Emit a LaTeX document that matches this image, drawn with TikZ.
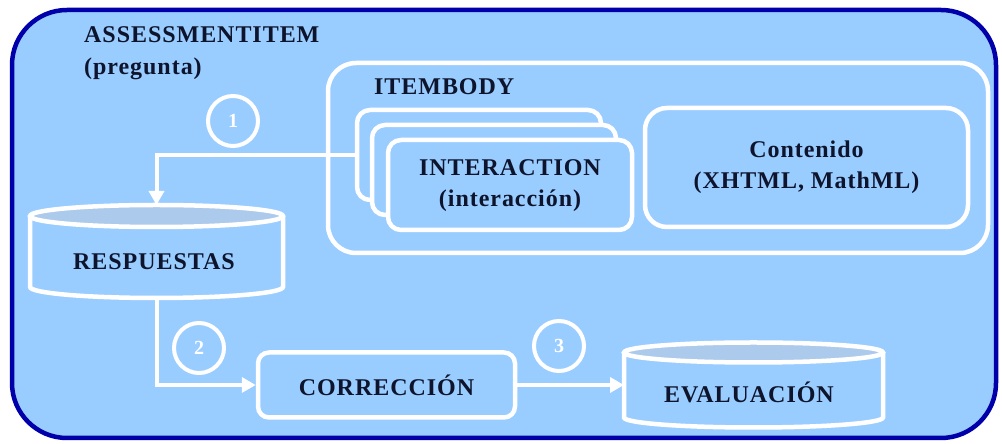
\documentclass[tikz,border=0pt]{standalone}
\usepackage{fontspec}
\setmainfont{Liberation Serif}
\newfontfamily\labfont[LetterSpace=4]{Liberation Serif}
\usetikzlibrary{arrows.meta,calc}

\definecolor{panel}{RGB}{153,204,255}
\definecolor{rim}{RGB}{0,0,170}
\definecolor{ink}{RGB}{14,20,44}
\definecolor{capfill}{RGB}{172,202,236}

\begin{document}
\begin{tikzpicture}[x=1pt,y=1pt,
  lbl/.style={font=\labfont\bfseries\fontsize{24}{31}\selectfont, text=ink, align=center, inner sep=0pt},
  wbox/.style={draw=white, line width=4.5pt, fill=panel, rounded corners=#1, inner sep=0pt},
  geom/.style={inner sep=0pt, outer sep=0pt},
  drum/.style={draw=white, line width=4.5pt},
  flow/.style={draw=white, line width=4pt, -{Triangle[width=15pt,length=14pt]}},
  numring/.style={circle, draw=white, line width=4pt, minimum size=50pt, inner sep=0pt,
                  text=white, font=\bfseries\fontsize{20}{20}\selectfont}
]
\useasboundingbox (0,0) rectangle (1002,444);
\fill[white] (0,0) rectangle (1002,444);

% outer container
\node[geom, draw=rim, line width=4.5pt, fill=panel, rounded corners=55pt,
      minimum width=984pt, minimum height=428pt] (item) at (504,220) {};
\node[lbl, anchor=base west] (itemname) at (84,401) {ASSESSMENTITEM};
\node[lbl, anchor=base west] (itemsub) at (84,369) {(pregunta)};

% item body
\node[wbox=28pt, minimum width=660pt, minimum height=190pt] (body) at (658,286) {};
\node[lbl, anchor=base west] (bodyname) at (374,349) {ITEMBODY};

% stacked interactions
\node[wbox=13pt, minimum width=244pt, minimum height=90pt] (intback) at (479,289) {};
\node[wbox=13pt, minimum width=244pt, minimum height=90pt] (intmid) at (494,274) {};
\node[wbox=13pt, minimum width=244pt, minimum height=90pt] (intfront) at (510,259) {};
\node[lbl] (inttext) at (510,258) {INTERACTION\\(interacción)};

% content
\node[wbox=22pt, minimum width=323pt, minimum height=119pt] (content) at (806.5,276.5) {};
\node[lbl] (contenttext) at (806.5,277) {Contenido\\(XHTML, MathML)};

% answers store
\node[geom, minimum width=253pt, minimum height=93pt] (resp) at (156.5,192.5) {};
\draw[drum, fill=panel]
  let \p1=(resp.north west), \p2=(resp.south east), \n1={(\x2-\x1)/2} in
  (\x1,\y1-11pt) -- (\x1,\y2+11pt) arc[start angle=180, end angle=360, x radius=\n1, y radius=11pt]
  -- (\x2,\y1-11pt);
\draw[drum, fill=capfill]
  let \p1=(resp.north), \p2=(resp.north east) in
  (\x1,\y1-11pt) ellipse[x radius=\x2-\x1, y radius=11pt];
\node[lbl] (resptext) at (154,182.5) {RESPUESTAS};

% correction
\node[wbox=11pt, minimum width=257pt, minimum height=65pt] (corr) at (386.5,59) {};
\node[lbl] (corrtext) at (386.5,59) {CORRECCIÓN};

% evaluation store
\node[geom, minimum width=259pt, minimum height=85pt] (eval) at (753.5,59) {};
\draw[drum, fill=panel]
  let \p1=(eval.north west), \p2=(eval.south east), \n1={(\x2-\x1)/2} in
  (\x1,\y1-10pt) -- (\x1,\y2+10pt) arc[start angle=180, end angle=360, x radius=\n1, y radius=10pt]
  -- (\x2,\y1-10pt);
\draw[drum, fill=capfill]
  let \p1=(eval.north), \p2=(eval.north east) in
  (\x1,\y1-10pt) ellipse[x radius=\x2-\x1, y radius=10pt];
\node[lbl] (evaltext) at (749,52) {EVALUACIÓN};

% flow connectors
\draw[flow] (intback.west) -| (resp.north);
\draw[flow] (resp.south) |- (corr.west);
\draw[flow] (corr.east) -- (eval.west);

% step markers
\node[numring] (s1) at (233,323) {1};
\node[numring] (s2) at (199,96) {2};
\node[numring] (s3) at (559,98) {3};
\end{tikzpicture}
\end{document}
